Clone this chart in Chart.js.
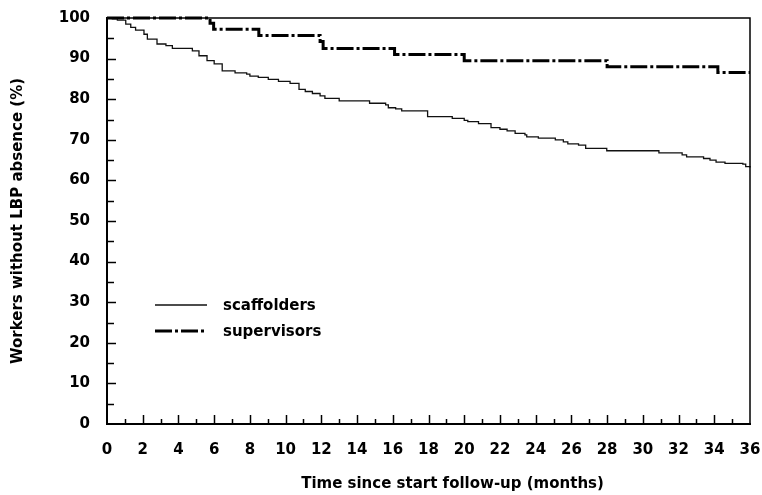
<!DOCTYPE html>
<html>
<head>
<meta charset="utf-8">
<script src="https://cdn.jsdelivr.net/npm/chart.js@4.4.0/dist/chart.umd.min.js"></script>
<style>
  html, body { margin: 0; padding: 0; background: #fff; }
  #wrap { width: 762px; height: 495px; position: relative; }
</style>
</head>
<body>
<div id="wrap"><canvas id="c" width="762" height="495"></canvas></div>
<script>
// ---- data ----
const seriesNames = ["scaffolders", "supervisors"];

const scaffoldersTime = [0, 0.3, 0.58, 1.05, 1.33, 1.6, 2.07, 2.26, 2.8, 3.3, 3.66, 4.78, 5.15, 5.6, 6.0, 6.45,
  7.17, 7.82, 8.0, 8.47, 9.03, 9.6, 10.25, 10.75, 11.1, 11.5, 11.93, 12.2, 13.0, 14.7, 15.6, 15.75, 16.16, 16.5,
  17.95, 19.33, 20.0, 20.2, 20.8, 21.5, 22.0, 22.4, 22.85, 23.4, 23.5, 24.15, 25.1, 25.55, 25.8, 26.4, 26.8,
  27.98, 30.9, 32.2, 32.45, 33.4, 33.76, 34.1, 34.6, 35.6, 35.76, 36];
const scaffoldersSurv = [100, 99.8, 99.5, 98.5, 97.7, 97.0, 96.0, 94.8, 93.6, 93.2, 92.5, 91.9, 90.7, 89.5, 88.7, 87.0,
  86.5, 86.2, 85.7, 85.4, 84.9, 84.4, 83.9, 82.4, 81.9, 81.4, 80.8, 80.2, 79.6, 79.0, 78.6, 77.9, 77.6, 77.1,
  75.7, 75.3, 74.8, 74.5, 74.0, 73.0, 72.6, 72.2, 71.6, 71.2, 70.7, 70.4, 70.0, 69.5, 69.0, 68.7, 67.9,
  67.3, 66.8, 66.3, 65.8, 65.4, 65.0, 64.5, 64.2, 64.0, 63.4, 63.2];

const supervisorsTime = [0, 5.77, 5.97, 8.5, 11.93, 12.1, 16.1, 20.0, 28.0, 34.2, 36];
const supervisorsSurv = [100, 98.7, 97.2, 95.7, 94.2, 92.5, 91.0, 89.5, 88.0, 86.6, 86.6];

const xTickValues = [0, 2, 4, 6, 8, 10, 12, 14, 16, 18, 20, 22, 24, 26, 28, 30, 32, 34, 36];
const yTickValues = [0, 10, 20, 30, 40, 50, 60, 70, 80, 90, 100];

const xTitle = "Time since start follow-up (months)";
const yTitle = "Workers without LBP absence (%)";

// ---- build ----
const toPoints = (xs, ys) => xs.map((x, i) => ({ x: x, y: ys[i] }));
const FONT = "'DejaVu Sans', sans-serif";

const innerTicks = {
  id: 'innerTicks',
  afterDatasetsDraw(chart) {
    const { ctx, chartArea: a, scales: { x, y } } = chart;
    ctx.save();
    ctx.strokeStyle = '#000';
    ctx.lineWidth = 1.5;
    // x ticks (every month, inward)
    for (let m = 1; m < 36; m++) {
      const px = Math.round(x.getPixelForValue(m)) + 0.5;
      const len = (m % 2 === 0) ? 9 : 5;
      ctx.beginPath(); ctx.moveTo(px, a.bottom); ctx.lineTo(px, a.bottom - len); ctx.stroke();
    }
    // y ticks (every 5, inward)
    for (let v = 5; v < 100; v += 5) {
      const py = Math.round(y.getPixelForValue(v)) + 0.5;
      const len = (v % 10 === 0) ? 9 : 7;
      ctx.beginPath(); ctx.moveTo(a.left, py); ctx.lineTo(a.left + len, py); ctx.stroke();
    }
    // top & right frame
    ctx.lineWidth = 1.5;
    ctx.beginPath();
    ctx.moveTo(a.left, a.top); ctx.lineTo(a.right, a.top); ctx.lineTo(a.right, a.bottom);
    ctx.stroke();

    // legend
    const ds = chart.data.datasets;
    const lx0 = a.left + 48, lx1 = a.left + 100, tx = a.left + 116;
    const rows = [a.top + 287, a.top + 313];
    ctx.font = "bold 15px " + FONT;
    ctx.textBaseline = 'middle';
    ctx.fillStyle = '#000';
    ds.forEach((d, i) => {
      ctx.save();
      ctx.strokeStyle = d.borderColor;
      ctx.lineWidth = d.borderWidth;
      ctx.setLineDash(d.borderDash || []);
      ctx.beginPath(); ctx.moveTo(lx0, rows[i]); ctx.lineTo(lx1, rows[i]); ctx.stroke();
      ctx.restore();
      ctx.fillText(d.label, tx, rows[i] + 1);
    });

    // x axis title
    ctx.textAlign = 'center';
    ctx.textBaseline = 'middle';
    ctx.fillText(xTitle, (a.left + a.right) / 2 + 24, 484);
    ctx.restore();
  }
};

new Chart(document.getElementById('c'), {
  type: 'line',
  data: {
    datasets: [
      {
        label: seriesNames[0],
        data: toPoints(scaffoldersTime, scaffoldersSurv),
        borderColor: '#111',
        borderWidth: 1.3,
        stepped: true,
        pointRadius: 0,
        fill: false,
        clip: false
      },
      {
        label: seriesNames[1],
        data: toPoints(supervisorsTime, supervisorsSurv),
        borderColor: '#000',
        borderWidth: 3,
        borderDash: [17, 3, 3, 3],
        stepped: true,
        pointRadius: 0,
        fill: false,
        clip: false
      }
    ]
  },
  options: {
    responsive: false,
    animation: false,
    devicePixelRatio: 1,
    layout: { padding: { top: 18, right: 12, left: 0, bottom: 0 } },
    plugins: { legend: { display: false }, tooltip: { enabled: false } },
    scales: {
      x: {
        type: 'linear',
        min: 0, max: 36,
        afterFit: s => { s.height = 71; s.paddingLeft = 0; s.paddingRight = 0; },
        afterBuildTicks: s => { s.ticks = xTickValues.map(v => ({ value: v })); },
        grid: { display: false, drawTicks: false },
        border: { display: true, color: '#000', width: 2 },
        ticks: {
          padding: 17,
          color: '#000',
          font: { family: FONT, size: 15, weight: 'bold' },
          maxRotation: 0,
          autoSkip: false
        },
        title: { display: false }
      },
      y: {
        type: 'linear',
        min: 0, max: 100,
        afterFit: s => { s.width = 107; s.paddingTop = 0; s.paddingBottom = 0; },
        afterBuildTicks: s => { s.ticks = yTickValues.map(v => ({ value: v })); },
        grid: { display: false, drawTicks: false },
        border: { display: true, color: '#000', width: 2 },
        ticks: {
          padding: 17,
          color: '#000',
          font: { family: FONT, size: 15, weight: 'bold' },
          autoSkip: false
        },
        title: {
          display: true,
          text: yTitle,
          color: '#000',
          font: { family: FONT, size: 15, weight: 'bold' },
          padding: { top: 9, bottom: 0 }
        }
      }
    }
  },
  plugins: [innerTicks]
});
</script>
</body>
</html>
